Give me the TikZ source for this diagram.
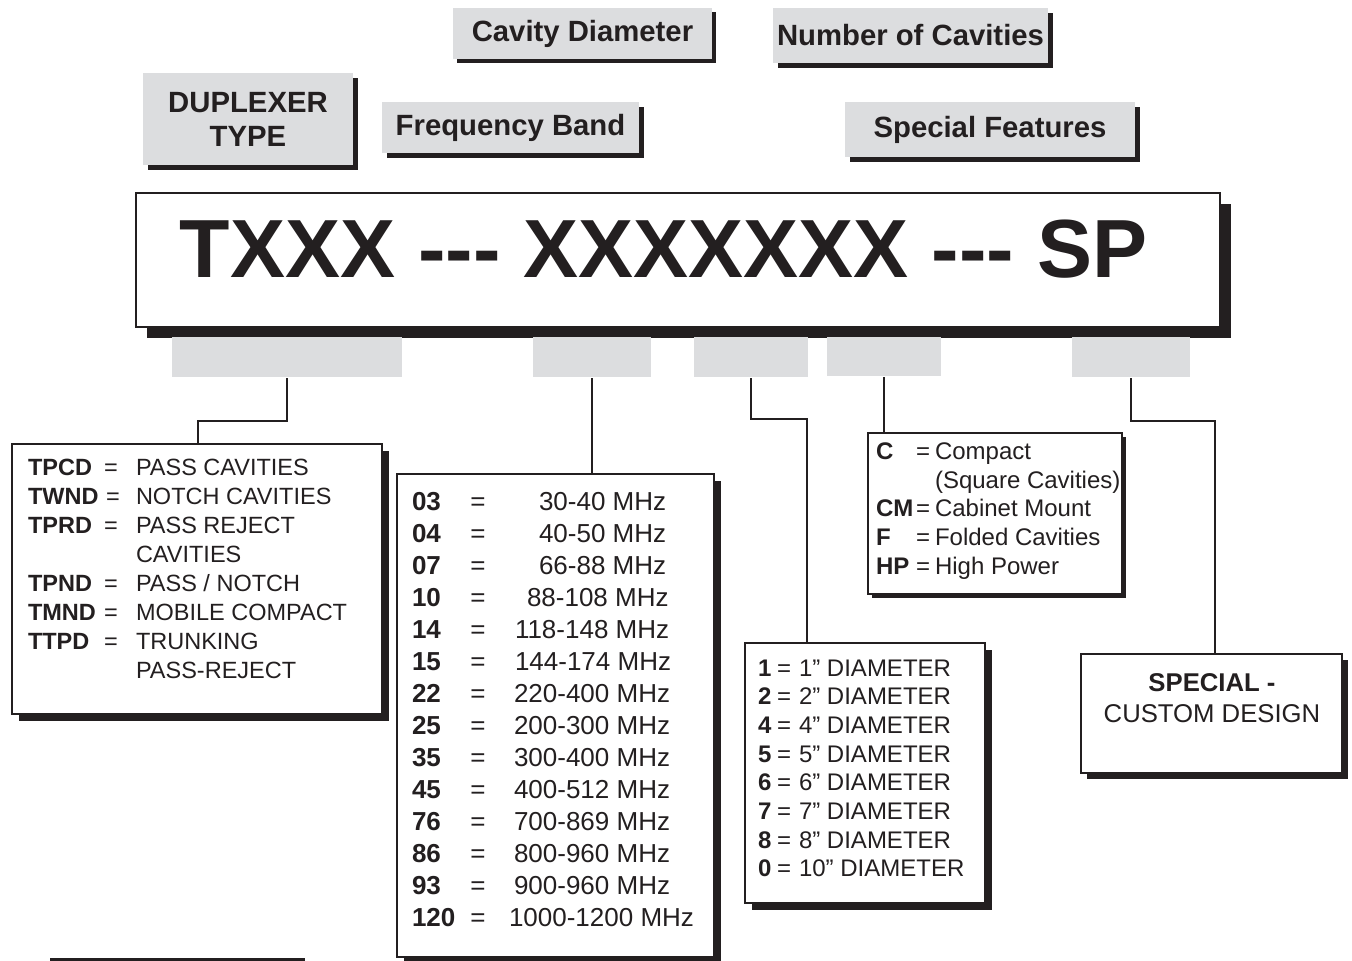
\documentclass[tikz,border=0pt]{standalone}
\usepackage{fontspec}
\newfontfamily\hv{Liberation Sans}
\usetikzlibrary{shadows,calc}
\definecolor{tabgray}{RGB}{220,221,223}
\definecolor{ink}{RGB}{35,31,32}
\newcommand{\fsz}[1]{\fontsize{#1}{#1}\selectfont}
\begin{document}
\begin{tikzpicture}[x=1pt,y=-1pt,line width=2pt,draw=ink,
  sh/.style={drop shadow={shadow xshift=#1pt,shadow yshift=-#1pt,fill=ink,opacity=1}},
  toptab/.style={fill=tabgray,draw=none,inner sep=0pt,align=center,text=ink,
    font=\hv\bfseries\fontsize{29.3}{34}\selectfont},
  lowtab/.style={fill=tabgray,draw=none,inner sep=0pt,minimum height=40pt},
  box/.style={draw=ink,fill=white,line width=2pt,inner sep=0pt},
  wire/.style={draw=ink,line width=2pt},
  tA/.style={inner sep=0pt,text=ink,font=\hv\fsz{23.5},anchor=base west},
  bA/.style={inner sep=0pt,text=ink,font=\hv\bfseries\fsz{23.5},anchor=base west},
  eA/.style={inner sep=0pt,text=ink,font=\hv\fsz{23.5},anchor=base},
  tB/.style={inner sep=0pt,text=ink,font=\hv\fsz{26},anchor=base west},
  bB/.style={inner sep=0pt,text=ink,font=\hv\bfseries\fsz{26},anchor=base west},
  eB/.style={inner sep=0pt,text=ink,font=\hv\fsz{26},anchor=base},
  tC/.style={inner sep=0pt,text=ink,font=\hv\fsz{24},anchor=base west},
  bC/.style={inner sep=0pt,text=ink,font=\hv\bfseries\fsz{24},anchor=base west},
  eC/.style={inner sep=0pt,text=ink,font=\hv\fsz{24},anchor=base}]
\useasboundingbox (0,0) rectangle (1352,961);

% ---- top tabs ----
\node[toptab,sh=4.5,minimum width=210pt,minimum height=92pt] (dup) at (248,119) {DUPLEXER\\TYPE};
\node[toptab,sh=5,minimum width=257pt,minimum height=51pt] (freq) at (510.5,127.5) {Frequency Band};
\node[toptab,sh=4,minimum width=259pt,minimum height=51pt] (cav) at (582.5,33.5) {Cavity Diameter};
\node[toptab,sh=5,minimum width=275pt,minimum height=55pt] (num) at (910.5,35.5) {Number of Cavities};
\node[toptab,sh=5,minimum width=290pt,minimum height=55pt] (spec) at (990,129.5) {Special Features};

% ---- main code box ----
\node[box,sh=11,minimum width=1084pt,minimum height=134pt] (code) at (678,260) {};
\node[inner sep=0pt,text=ink,font=\hv\bfseries\fsz{82.5},anchor=base] (codetext) at (663.5,277) {TXXX --- XXXXXXX --- SP};

% connectors from top tabs
\draw[wire] ($(freq.south east)+(4,0)$) -- ($(freq.south east)+(4,0)$ |- code.north);
\draw[wire] ($(cav.south east)+(2,0)$) -- ($(cav.south east)+(2,0)$ |- code.north);
\draw[wire] ($(num.south west)+(7.5,0)$) -- ($(num.south west)+(7.5,0)$ |- code.north);
\draw[wire] ($(spec.south west)+(29,0)$) -- ($(spec.south west)+(29,0)$ |- code.north);

% ---- lower tabs ----
\node[lowtab,minimum width=230pt] (t1) at (287,357) {};
\node[lowtab,minimum width=118pt] (t2) at (592,357) {};
\node[lowtab,minimum width=114pt] (t3) at (751,357) {};
\node[lowtab,minimum width=114pt,minimum height=39pt] (t4) at (884,356.5) {};
\node[lowtab,minimum width=118pt] (t5) at (1131,357) {};

% ---- lower boxes ----
\node[box,sh=7,minimum width=370pt,minimum height=270pt] (b1) at (197,579) {};
\node[box,sh=7,minimum width=317pt,minimum height=483pt] (b2) at (555.5,715.5) {};
\node[box,sh=7,minimum width=240pt,minimum height=260pt] (b3) at (865,773) {};
\node[box,sh=4,minimum width=254pt,minimum height=161pt] (b4) at (995,513.5) {};
\node[box,sh=6,minimum width=261pt,minimum height=119pt] (b5) at (1211.5,713.5) {};

% connectors from lower tabs
\draw[wire] (t1.south) -- (t1.south |- 0,421) -| ($(b1.north west)+(187,0)$);
\draw[wire] (t2.south) -- (t2.south |- b2.north);
\draw[wire] (t3.south) -- (t3.south |- 0,419) -| ($(b3.north west)+(63,0)$);
\draw[wire] (t4.south) -- (t4.south |- b4.north);
\draw[wire] (t5.south) -- (t5.south |- 0,421) -| ($(b5.north west)+(135,0)$);

% ---- box 1: duplexer types ----
\node[bA] (k1) at (27,475) {TPCD};   \node[eA] (e1) at (111,475) {=}; \node[tA] (d1) at (135,475) {PASS CAVITIES};
\node[bA] (k2) at (27,504) {TWND};   \node[eA] (e2) at (113,504) {=}; \node[tA] (d2) at (135,504) {NOTCH CAVITIES};
\node[bA] (k3) at (27,533) {TPRD};   \node[eA] (e3) at (111,533) {=}; \node[tA] (d3) at (135,533) {PASS REJECT};
\node[tA] (d4) at (135,562) {CAVITIES};
\node[bA] (k5) at (27,591) {TPND};   \node[eA] (e5) at (111,591) {=}; \node[tA] (d5) at (135,591) {PASS / NOTCH};
\node[bA] (k6) at (27,620) {TMND};   \node[eA] (e6) at (111,620) {=}; \node[tA] (d6) at (135,620) {MOBILE COMPACT};
\node[bA] (k7) at (27,649) {TTPD};   \node[eA] (e7) at (111,649) {=}; \node[tA] (d7) at (135,649) {TRUNKING};
\node[tA] (d8) at (135,678) {PASS-REJECT};

% ---- box 2: frequency bands ----
\foreach \c/\v/\vx [count=\i from 0] in {03/30-40 MHz/538, 04/40-50 MHz/538, 07/66-88 MHz/538,
  10/88-108 MHz/526, 14/118-148 MHz/514, 15/144-174 MHz/514, 22/220-400 MHz/513,
  25/200-300 MHz/513, 35/300-400 MHz/513, 45/400-512 MHz/513, 76/700-869 MHz/513,
  86/800-960 MHz/513, 93/900-960 MHz/513, 120/1000-1200 MHz/508}{
  \node[bB] (fc\i) at (411,{510+32*\i}) {\c};
  \node[eB] (fe\i) at (478,{510+32*\i}) {=};
  \node[tB] (fv\i) at (\vx,{510+32*\i}) {\v};
}

% ---- box 3: cavity diameters ----
\foreach \dg/\dv [count=\i from 0] in {1/1”, 2/2”, 4/4”, 5/5”, 6/6”, 7/7”, 8/8”, 0/10”}{
  \node[bC] (dk\i) at (757,{676+28.7*\i}) {\dg};
  \node[eC] (de\i) at (784,{676+28.7*\i}) {=};
  \node[tC] (dd\i) at (798,{676+28.7*\i}) {\dv{} DIAMETER};
}

% ---- box 4: special features ----
\node[bC] (sk1) at (875,459) {C};  \node[eC] (se1) at (923,459) {=}; \node[tC] (sd1) at (934,459) {Compact};
\node[tC] (sd2) at (934,488) {(Square Cavities)};
\node[bC] (sk3) at (875,516.5) {CM}; \node[eC] (se3) at (923,516.5) {=}; \node[tC] (sd3) at (934,516.5) {Cabinet Mount};
\node[bC] (sk4) at (875,545) {F};  \node[eC] (se4) at (923,545) {=}; \node[tC] (sd4) at (934,545) {Folded Cavities};
\node[bC] (sk5) at (875,574) {HP}; \node[eC] (se5) at (923,574) {=}; \node[tC] (sd5) at (934,574) {High Power};

% ---- box 5: special ----
\node[inner sep=0pt,text=ink,font=\hv\bfseries\fsz{25.7},anchor=base] (sp1) at (1212,691) {SPECIAL -};
\node[inner sep=0pt,text=ink,font=\hv\fsz{25.7},anchor=base] (sp2) at (1212,722) {CUSTOM DESIGN};

% ---- bottom rule ----
\coordinate (ruleL) at (50,959.5);
\coordinate (ruleR) at (305,959.5);
\draw[line width=3pt,draw=ink] (ruleL) -- (ruleR);
\end{tikzpicture}
\end{document}
